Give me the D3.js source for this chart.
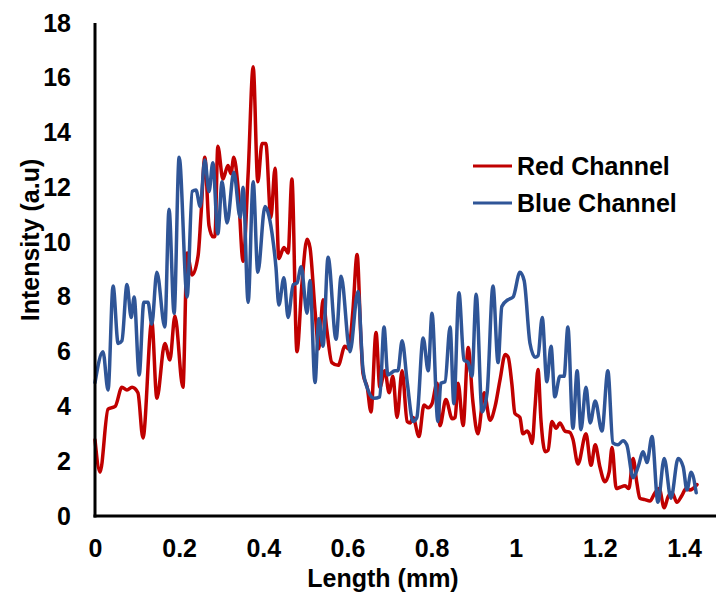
<!DOCTYPE html>
<html>
<head>
<meta charset="utf-8">
<script src="https://cdn.jsdelivr.net/npm/d3@7"></script>
<style>
  html, body { margin: 0; padding: 0; background: #fff; }
  svg text { font-family: "Liberation Sans", Arial, sans-serif; font-weight: bold; }
</style>
</head>
<body>
<div id="chart"></div>
<script>
// ---- Data ----
const redX = [0,0.012,0.031,0.048,0.064,0.076,0.088,0.102,0.114,0.135,0.147,0.166,0.178,0.190,0.209,0.219,0.231,0.245,0.252,0.261,0.271,0.280,0.285,0.292,0.304,0.316,0.323,0.330,0.340,0.352,0.364,0.376,0.387,0.397,0.406,0.418,0.428,0.437,0.449,0.459,0.468,0.480,0.492,0.504,0.511,0.523,0.532,0.542,0.551,0.563,0.578,0.594,0.603,0.613,0.623,0.632,0.637,0.647,0.656,0.668,0.677,0.689,0.699,0.708,0.718,0.730,0.742,0.749,0.756,0.770,0.782,0.792,0.801,0.813,0.820,0.834,0.849,0.856,0.863,0.875,0.887,0.898,0.910,0.925,0.939,0.951,0.963,0.975,0.982,0.991,0.998,1.010,1.017,1.027,1.032,1.039,1.046,1.053,1.060,1.070,1.077,1.086,1.096,1.105,1.117,1.129,1.136,1.148,1.167,1.179,1.189,1.200,1.212,1.222,1.229,1.239,1.248,1.260,1.269,1.279,1.288,1.295,1.307,1.319,1.331,1.341,1.353,1.362,1.372,1.383,1.395,1.405,1.414,1.431];
const redY = [2.78,1.6,3.9,4.0,4.7,4.6,4.7,4.5,2.85,7.1,4.3,6.3,5.7,7.3,4.7,9.6,8.8,9.5,11.0,13.1,10.6,10.2,10.2,13.5,12.3,12.8,12.5,13.1,12.0,9.3,12.5,16.4,12.2,13.6,13.6,10.9,12.7,9.4,9.8,9.6,12.3,6.0,8.5,10.1,9.8,7.5,6.1,7.9,6.8,5.6,5.5,6.2,6.1,7.5,9.55,6.5,5.2,4.7,3.8,6.7,4.7,5.3,4.5,5.1,3.6,5.3,3.45,3.4,3.6,2.9,4.05,3.95,4.1,4.85,3.3,4.25,3.55,3.6,4.85,3.3,6.15,4.2,3.0,4.5,3.5,4.0,5.0,5.9,5.8,4.8,3.75,3.6,3.0,3.1,3.0,2.65,4.0,5.35,3.5,2.35,2.4,3.45,3.2,3.4,3.1,3.05,2.8,1.9,3.0,1.85,2.6,1.8,1.25,1.6,2.5,1.0,1.05,1.1,1.0,2.1,1.2,0.65,0.6,0.55,0.85,1.0,0.3,0.7,0.85,0.5,0.75,1.0,0.95,1.15];

const blueX = [0,0.019,0.031,0.043,0.055,0.064,0.076,0.086,0.093,0.105,0.116,0.126,0.135,0.147,0.166,0.176,0.188,0.200,0.219,0.231,0.240,0.250,0.261,0.271,0.280,0.292,0.302,0.314,0.330,0.345,0.352,0.364,0.376,0.387,0.404,0.411,0.421,0.430,0.437,0.449,0.459,0.471,0.480,0.490,0.504,0.511,0.523,0.532,0.542,0.554,0.573,0.585,0.606,0.625,0.637,0.649,0.663,0.677,0.687,0.696,0.713,0.720,0.730,0.742,0.756,0.765,0.780,0.792,0.801,0.815,0.822,0.832,0.844,0.853,0.865,0.877,0.887,0.896,0.906,0.920,0.932,0.946,0.958,0.967,0.982,0.994,1.010,1.020,1.034,1.046,1.053,1.063,1.074,1.084,1.093,1.105,1.115,1.124,1.136,1.146,1.155,1.167,1.177,1.189,1.205,1.219,1.231,1.243,1.255,1.264,1.279,1.291,1.303,1.312,1.324,1.338,1.353,1.369,1.386,1.398,1.407,1.417,1.429];
const blueY = [4.87,6.0,4.6,8.4,6.3,6.4,8.45,7.25,8.0,5.15,7.8,7.8,7.0,8.9,6.9,11.2,7.4,13.1,8.0,11.85,11.9,11.3,13.0,11.85,12.9,10.3,12.2,10.7,12.55,10.9,12.0,7.8,12.2,8.9,11.3,11.1,10.3,9.1,7.7,8.7,7.25,8.45,8.5,9.1,7.4,8.6,4.87,7.2,6.2,9.45,6.45,8.75,6.0,8.2,5.35,4.6,4.3,4.35,6.9,5.15,5.3,5.3,6.4,4.9,3.45,3.6,6.5,5.3,7.4,3.45,4.85,4.9,6.9,4.1,8.15,5.7,5.6,5.1,8.1,3.8,4.5,8.4,5.6,7.65,7.9,8.0,8.9,8.6,6.3,5.8,5.85,7.25,4.9,6.2,4.35,5.1,5.1,6.9,3.2,5.3,3.15,4.7,3.4,4.2,3.1,5.3,2.67,2.6,2.75,2.6,1.4,1.8,2.35,1.95,2.9,0.5,2.1,0.65,2.1,1.8,0.95,1.6,0.85];

const xTicks = [0, 0.2, 0.4, 0.6, 0.8, 1, 1.2, 1.4];
const yTicks = [0, 2, 4, 6, 8, 10, 12, 14, 16, 18];
const seriesNames = ["Red Channel", "Blue Channel"];
const seriesColors = ["#C00000", "#2F5597"];
const xTitle = "Length (mm)";
const yTitle = "Intensity (a.u)";

// ---- Layout ----
const W = 716, H = 595;
const x0 = 95, x14 = 684;
const yTop = 23, yBot = 516;

const x = d3.scaleLinear().domain([0, 1.4]).range([x0, x14]);
const y = d3.scaleLinear().domain([0, 18]).range([yBot, yTop]);

const svg = d3.select("#chart").append("svg")
  .attr("width", W).attr("height", H)
  .attr("viewBox", `0 0 ${W} ${H}`);

// lines
const line = d3.line().x(d => x(d[0])).y(d => y(d[1])).curve(d3.curveMonotoneX);
const redData = redX.map((v, i) => [v, redY[i]]);
const blueData = blueX.map((v, i) => [v, blueY[i]]);

svg.append("path").datum(redData)
  .attr("d", line).attr("fill", "none")
  .attr("stroke", seriesColors[0]).attr("stroke-width", 3.5)
  .attr("stroke-linejoin", "round").attr("stroke-linecap", "round");
svg.append("path").datum(blueData)
  .attr("d", line).attr("fill", "none")
  .attr("stroke", seriesColors[1]).attr("stroke-width", 3.5)
  .attr("stroke-linejoin", "round").attr("stroke-linecap", "round");

// axes
const xAxis = d3.axisBottom(x).tickValues(xTicks).tickSize(0).tickPadding(23)
  .tickFormat(d => String(d));
const gx = svg.append("g").attr("transform", `translate(0,${yBot})`).call(xAxis);
gx.select(".domain").remove();
gx.selectAll("text").attr("font-size", 25).attr("fill", "#000")
  .attr("font-family", "Liberation Sans, Arial, sans-serif").attr("font-weight", "bold");

const yAxis = d3.axisLeft(y).tickValues(yTicks).tickSize(0).tickPadding(24)
  .tickFormat(d => String(d));
const gy = svg.append("g").attr("transform", `translate(${x0},0)`).call(yAxis);
gy.select(".domain").remove();
gy.selectAll("text").attr("font-size", 25).attr("fill", "#000")
  .attr("font-family", "Liberation Sans, Arial, sans-serif").attr("font-weight", "bold");

// axis lines
svg.append("line").attr("x1", x0).attr("x2", x0).attr("y1", yTop).attr("y2", yBot + 1.5)
  .attr("stroke", "#000").attr("stroke-width", 3);
svg.append("line").attr("x1", x0 - 1.5).attr("x2", W).attr("y1", yBot).attr("y2", yBot)
  .attr("stroke", "#000").attr("stroke-width", 3);

// axis titles
svg.append("text").attr("x", 383).attr("y", 587).attr("text-anchor", "middle")
  .attr("font-size", 25).text(xTitle);
svg.append("text").attr("transform", "translate(39,240) rotate(-90)")
  .attr("text-anchor", "middle").attr("font-size", 25).text(yTitle);

// legend
const leg = svg.append("g");
seriesNames.forEach((name, i) => {
  const ly = 166 + i * 37;
  leg.append("line").attr("x1", 473).attr("x2", 512).attr("y1", ly).attr("y2", ly)
    .attr("stroke", seriesColors[i]).attr("stroke-width", 3);
  leg.append("text").attr("x", 517).attr("y", ly + 9).attr("font-size", 25).text(name);
});
</script>
</body>
</html>
